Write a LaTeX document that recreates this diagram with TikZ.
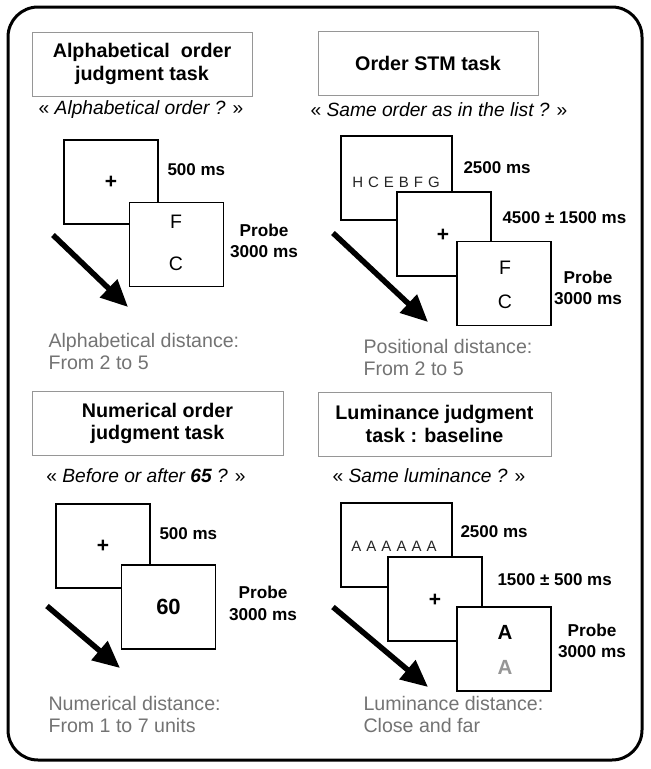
\documentclass[tikz,border=0pt]{standalone}
\usepackage{fontspec}
\setmainfont{Liberation Sans}
\usetikzlibrary{arrows.meta}

\definecolor{framegray}{RGB}{150,150,150}
\definecolor{notegray}{RGB}{115,115,115}
\definecolor{lumgray}{RGB}{150,150,150}

\tikzset{
	task/.style={draw=framegray, line width=1pt, minimum width=220pt, minimum height=64pt, align=center, font=\fontsize{19.7}{22.5}\selectfont\bfseries},
	quest/.style={font=\fontsize{19.2}{22}\selectfont},
	screen/.style={draw, fill=white, line width=1.2pt, minimum width=94pt, minimum height=84pt},
	wide/.style={minimum width=111pt},
	dur/.style={anchor=west, font=\fontsize{17}{20}\selectfont\bfseries},
	probe/.style={align=center, font=\fontsize{17.2}{21.5}\selectfont\bfseries},
	letter/.style={font=\fontsize{19.5}{22}\selectfont},
	fix/.style={font=\fontsize{21}{22}\selectfont\bfseries},
	note/.style={anchor=west, align=left, text=notegray, font=\fontsize{19.6}{22}\selectfont},
	time/.style={-{Triangle[length=27pt, width=24pt]}, line width=5.5pt}
}

\begin{document}
\begin{tikzpicture}[x=1pt, y=-1pt]
		\useasboundingbox (0,0) rectangle (651,769);
		\draw[line width=3pt, rounded corners=30pt] (8,7) rectangle (642,760);
		
		% alphabetical order task
		\node[task] (t1) at (142,64) {Alphabetical\ \ order\\judgment task};
		\node[quest] (q1) at (141,110) {« \textit{Alphabetical order ?} »};
		\node[screen] (s1-1) at (111,182) {};
		\node[fix] at (s1-1) {+};
		\node[screen] (s1-2) at (176.5,244.5) {};
		\node[letter] (f1) at (176,222) {F};
		\node[letter] (c1) at (176,264) {C};
		\node[dur] (d1-1) at (164,170) {500 ms};
		\node[probe] (p1) at (264,241) {Probe\\3000 ms};
		\coordinate (a1-s) at (53,235);
		\coordinate (a1-e) at (128,307);
		\draw[time] (a1-s) -- (a1-e);
		\node[note] (n1) at (45,351) {Alphabetical distance:\\From 2 to 5};
		
		% order STM task
		\node[task] (t2) at (428,63) {Order STM task};
		\node[quest] (q2) at (439,110) {« \textit{Same order as in the list ?} »};
		\node[screen, wide] (s2-1) at (396.5,178) {};
		\node[font=\fontsize{15}{17}\selectfont, text=black!85] (l2) at (396,182) {H\,\,C\,\,E\,\,B\,\,F\,\,G};
		\node[screen] (s2-2) at (444,234) {};
		\node[fix] at (443,235) {+};
		\node[screen] (s2-3) at (504,283.5) {};
		\node[letter] (f2) at (505,268) {F};
		\node[letter] (c2) at (505,302) {C};
		\node[dur] (d2-1) at (460,168) {2500 ms};
		\node[dur] (d2-2) at (499,218) {4500 ± 1500 ms};
		\node[probe] (p2) at (588,288) {Probe\\3000 ms};
		\coordinate (a2-s) at (333,233);
		\coordinate (a2-e) at (428,322);
		\draw[time] (a2-s) -- (a2-e);
		\node[note] (n2) at (360,357) {Positional distance:\\From 2 to 5};
		
		% numerical order task
		\node[task, minimum width=251pt] (t3) at (157.5,423.5) {Numerical order\\judgment task};
		\node[quest] (q3) at (146,476) {« \textit{Before or after \textbf{65} ?} »};
		\node[screen] (s3-1) at (103,546) {};
		\node[fix] at (s3-1) {+};
		\node[screen] (s3-2) at (168.5,607) {};
		\node[font=\fontsize{22}{24}\selectfont\bfseries] (n60) at (s3-2) {60};
		\node[dur] (d3-1) at (156,534) {500 ms};
		\node[probe] (p3) at (263,603.5) {Probe\\3000 ms};
		\coordinate (a3-s) at (47,606);
		\coordinate (a3-e) at (120,668);
		\draw[time] (a3-s) -- (a3-e);
		\node[note] (n3) at (45,714) {Numerical distance:\\From 1 to 7 units};
		
		% luminance task
		\node[task, minimum width=233pt] (t4) at (434.5,424) {Luminance judgment\\task : baseline};
		\node[quest] (q4) at (429,476) {« \textit{Same luminance ?} »};
		\node[screen, wide] (s4-1) at (396.5,545) {};
		\node[font=\fontsize{15}{17}\selectfont, text=black!85] (l4) at (394,546) {A\,\,A\,\,A\,\,A\,\,A\,\,A};
		\node[screen] (s4-2) at (435,599) {};
		\node[fix] at (435,600) {+};
		\node[screen] (s4-3) at (504,649) {};
		\node[letter, font=\fontsize{20.5}{22}\selectfont\bfseries] (a4) at (505,632) {A};
		\node[letter, font=\fontsize{20.5}{22}\selectfont\bfseries, text=lumgray] (g4) at (505,667) {A};
		\node[dur] (d4-1) at (457,532) {2500 ms};
		\node[dur] (d4-2) at (494,580) {1500 ± 500 ms};
		\node[probe] (p4) at (592,641) {Probe\\3000 ms};
		\coordinate (a4-s) at (333,607);
		\coordinate (a4-e) at (428,687);
		\draw[time] (a4-s) -- (a4-e);
		\node[note] (n4) at (360,714) {Luminance distance:\\Close and far};
\end{tikzpicture}
\end{document}
